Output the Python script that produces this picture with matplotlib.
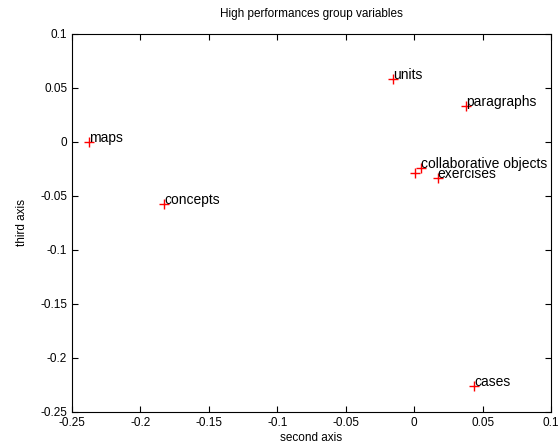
import matplotlib
matplotlib.use("Agg")
import matplotlib.pyplot as plt

plt.rcParams["font.family"] = ["Liberation Sans", "DejaVu Sans"]

names = ["units", "paragraphs", "", "collaborative objects", "exercises",
         "maps", "concepts", "cases"]
second = [-0.0152, 0.0379, 0.0008, 0.0048, 0.0172, -0.2376, -0.1825, 0.0437]
third = [0.0580, 0.0333, -0.0284, -0.0244, -0.0336, 0.0003, -0.0577, -0.2259]

xticks = [-0.25, -0.2, -0.15, -0.1, -0.05, 0, 0.05, 0.1]
xlabels = ["-0.25", "-0.2", "-0.15", "-0.1", "-0.05", "0", "0.05", "0.1"]
yticks = [-0.25, -0.2, -0.15, -0.1, -0.05, 0, 0.05, 0.1]
ylabels = ["-0.25", "-0.2", "-0.15", "-0.1", "-0.05", "0", "0.05", "0.1"]

fig = plt.figure(figsize=(5.6, 4.48), dpi=100)
ax = fig.add_axes([0.1286, 0.0804, 0.8554, 0.8438])

ax.plot(second, third, "+", color="red", markersize=7, markeredgewidth=1.0)
for x, y, n in zip(second, third, names):
    ax.text(x, y, n, fontsize=10, ha="left", va="baseline")

ax.set_xlim(-0.25, 0.1)
ax.set_ylim(-0.25, 0.1)
ax.set_xticks(xticks)
ax.set_xticklabels(xlabels, fontsize=8.5)
ax.set_yticks(yticks)
ax.set_yticklabels(ylabels, fontsize=8.5)
ax.tick_params(direction="in", top=True, right=True, length=4, width=0.8)
for s in ax.spines.values():
    s.set_linewidth(0.8)

ax.set_xlabel("second axis", fontsize=8.5, labelpad=2)
ax.set_ylabel("third axis", fontsize=8.5, labelpad=9)
ax.set_title("High performances group variables", fontsize=8.5, pad=12)

fig.savefig("out.png", dpi=100)
